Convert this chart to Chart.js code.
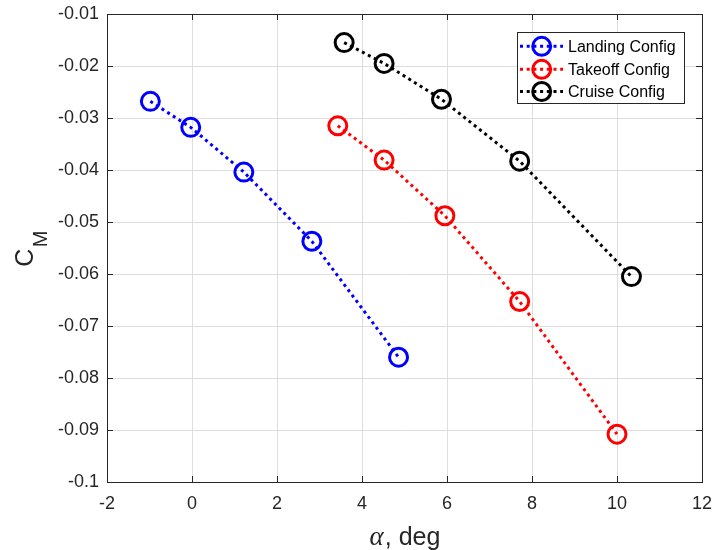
<!DOCTYPE html>
<html>
<head>
<meta charset="utf-8">
<script src="https://cdn.jsdelivr.net/npm/chart.js@4/dist/chart.umd.min.js"></script>
<style>
  html, body { margin: 0; padding: 0; background: #fff; }
  #wrap { width: 714px; height: 550px; position: relative; }
</style>
</head>
<body>
<div id="wrap"><canvas id="cmChart"></canvas></div>
<script>
// values
const seriesNames = ['Landing Config', 'Takeoff Config', 'Cruise Config']
const seriesColors = ['#0000ff', '#ff0000', '#000000']

const landingAlpha = [-0.98, -0.03, 1.22, 2.82, 4.86]
const landingCm = [-0.0268, -0.0318, -0.0404, -0.0537, -0.0760]

const takeoffAlpha = [3.43, 4.52, 5.95, 7.71, 10.0]
const takeoffCm = [-0.0315, -0.0381, -0.0488, -0.0653, -0.0908]

const cruiseAlpha = [3.58, 4.52, 5.87, 7.71, 10.34]
const cruiseCm = [-0.0155, -0.0195, -0.0264, -0.0383, -0.0605]

const xTicks = [-2, 0, 2, 4, 6, 8, 10, 12]
const yTicks = [-0.1, -0.09, -0.08, -0.07, -0.06, -0.05, -0.04, -0.03, -0.02, -0.01]

const axisColor = '#262626'
const gridColor = '#dedede'
const sans = '"Liberation Sans", Arial, sans-serif'

function pairUp(xs, ys){
    return xs.map((x, i) => ({x: x, y: ys[i]}))
}

function makeSet(i, xs, ys){
    return {
        label: seriesNames[i],
        data: pairUp(xs, ys),
        showLine: true,
        borderColor: seriesColors[i],
        borderWidth: 3,
        borderDash: [3, 3.7],
        pointStyle: 'circle',
        pointRadius: 9,
        pointHoverRadius: 9,
        pointBorderWidth: 3,
        pointBorderColor: seriesColors[i],
        pointBackgroundColor: 'rgba(0,0,0,0)'
    }
}

// box frame, inward ticks, axis titles and legend, MATLAB style
const matlabBits = {
    id: 'matlabBits',
    beforeDatasetsDraw(chart){
        const ctx = chart.ctx
        const a = chart.chartArea
        const xs = chart.scales.x, ys = chart.scales.y
        const len = 6
        ctx.save()
        ctx.strokeStyle = axisColor
        ctx.lineWidth = 1
        ctx.beginPath()
        xTicks.forEach(v => {
            const px = Math.round(xs.getPixelForValue(v)) + 0.5
            ctx.moveTo(px, a.bottom); ctx.lineTo(px, a.bottom - len)
            ctx.moveTo(px, a.top); ctx.lineTo(px, a.top + len)
        })
        yTicks.forEach(v => {
            const py = Math.round(ys.getPixelForValue(v)) + 0.5
            ctx.moveTo(a.left, py); ctx.lineTo(a.left + len, py)
            ctx.moveTo(a.right, py); ctx.lineTo(a.right - len, py)
        })
        ctx.stroke()
        ctx.strokeRect(Math.round(a.left) + 0.5, Math.round(a.top) + 0.5,
            Math.round(a.right - a.left), Math.round(a.bottom - a.top))
        ctx.restore()
    },
    afterDraw(chart){
        const ctx = chart.ctx
        const a = chart.chartArea
        ctx.save()
        ctx.fillStyle = axisColor
        ctx.textBaseline = 'alphabetic'
        ctx.textAlign = 'left'

        // x title: alpha, deg
        const alphaFont = 'italic 27px "Liberation Serif", "DejaVu Serif", serif'
        const restFont = '25px ' + sans
        ctx.font = alphaFont
        const wA = ctx.measureText('α').width
        ctx.font = restFont
        const wR = ctx.measureText(', deg').width
        let x0 = (a.left + a.right) / 2 - (wA + wR) / 2
        ctx.font = alphaFont
        ctx.fillText('α', x0, 545)
        ctx.font = restFont
        ctx.fillText(', deg', x0 + wA + 1, 545)

        // y title: C with subscript M
        ctx.save()
        ctx.translate(33, 266.7)
        ctx.rotate(-Math.PI / 2)
        ctx.font = '25px ' + sans
        const wC = ctx.measureText('C').width
        ctx.fillText('C', 0, 0)
        ctx.font = '20px ' + sans
        ctx.fillText('M', wC + 1.5, 13.7)
        ctx.restore()

        // legend box
        const box = {x: 517.5, y: 32.5, w: 167, h: 71}
        ctx.fillStyle = '#fff'
        ctx.fillRect(box.x, box.y, box.w, box.h)
        ctx.strokeStyle = axisColor
        ctx.lineWidth = 1
        ctx.strokeRect(box.x, box.y, box.w, box.h)
        const rows = [46.3, 69.3, 91.5]
        ctx.font = '16px ' + sans
        ctx.textBaseline = 'middle'
        rows.forEach((ry, i) => {
            ctx.strokeStyle = seriesColors[i]
            ctx.lineWidth = 3
            ctx.setLineDash([3, 3.7])
            ctx.beginPath()
            ctx.moveTo(520, ry); ctx.lineTo(563, ry)
            ctx.stroke()
            ctx.setLineDash([])
            ctx.beginPath()
            ctx.arc(541.7, ry, 9, 0, Math.PI * 2)
            ctx.stroke()
            ctx.fillStyle = '#000'
            ctx.fillText(seriesNames[i], 568, ry + 1)
        })
        ctx.restore()
    }
}

const canvas = document.getElementById('cmChart')
const myChart = new Chart(canvas, {
    type: 'scatter',
    data: {
        datasets: [
            makeSet(0, landingAlpha, landingCm),
            makeSet(1, takeoffAlpha, takeoffCm),
            makeSet(2, cruiseAlpha, cruiseCm)
        ]
    },
    options: {
        responsive: true,
        maintainAspectRatio: false,
        animation: false,
        events: [],
        layout: {padding: {top: 14, right: 10, left: 0, bottom: 0}},
        plugins: {
            legend: {display: false},
            tooltip: {enabled: false}
        },
        scales: {
            x: {
                type: 'linear',
                min: -2,
                max: 12,
                afterBuildTicks: s => { s.ticks = xTicks.map(v => ({value: v})) },
                afterFit: s => {
                    s.height = 68
                    s.paddingLeft = 0; s.paddingRight = 0
                },
                grid: {color: gridColor, drawTicks: false, lineWidth: 1},
                border: {display: false},
                ticks: {
                    padding: 11,
                    color: axisColor,
                    font: {family: sans, size: 18},
                    callback: v => String(v)
                }
            },
            y: {
                type: 'linear',
                min: -0.1,
                max: -0.01,
                afterBuildTicks: s => { s.ticks = yTicks.map(v => ({value: v})) },
                afterFit: s => {
                    s.width = 107
                    s.paddingTop = 0; s.paddingBottom = 0
                },
                grid: {color: gridColor, drawTicks: false, lineWidth: 1},
                border: {display: false},
                ticks: {
                    padding: 8,
                    color: axisColor,
                    font: {family: sans, size: 18},
                    callback: v => String(+v.toFixed(2))
                }
            }
        }
    },
    plugins: [matlabBits]
})
</script>
</body>
</html>
